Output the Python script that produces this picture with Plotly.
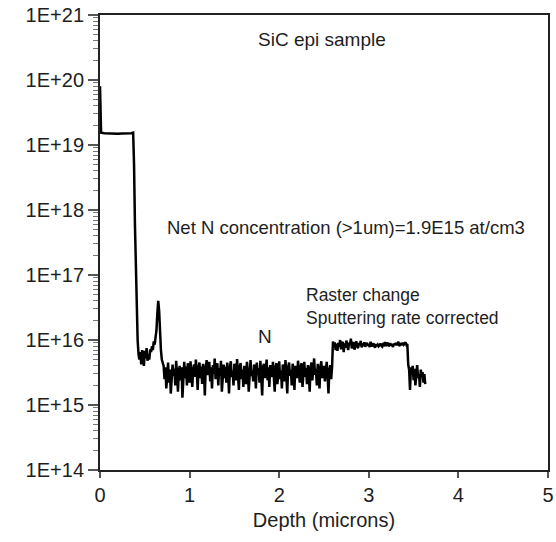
import numpy as np
import plotly.graph_objects as go

# ---- data (depth in microns, concentration in at/cm3) ----
head_depth = [0.0, 0.005, 0.012, 0.05, 0.1, 0.15, 0.2, 0.25, 0.3, 0.35, 0.37,
              0.38, 0.39, 0.40, 0.41, 0.42, 0.43]
head_conc = [8e19, 3e19, 1.55e19, 1.52e19, 1.5e19, 1.5e19, 1.49e19, 1.5e19,
             1.5e19, 1.52e19, 1.55e19, 5e18, 6e17, 9e16, 2.5e16, 1e16, 6e15]

# near-surface region after the drop (units of 1e15), 0.44 - 0.62 um
seg_a_e15 = [5.0, 6.5, 4.2, 7.0, 5.5, 4.0, 6.8, 5.2, 7.5, 4.8,
             6.0, 5.0, 7.2, 6.5, 8.0, 7.0, 9.5, 8.5, 11.0]
# small peak, 0.63 - 0.70 um
seg_peak_e15 = [14.0, 26.0, 40.0, 28.0, 12.0, 7.0, 5.0, 4.5]
# epi layer background, 0.71 - 2.59 um
seg_b_e15 = [
    4.0, 2.5, 3.8, 1.8, 3.2, 4.5, 2.2, 3.5, 1.5, 3.0,
    4.2, 2.8, 3.6, 2.0, 4.8, 3.0, 1.6, 3.4, 4.0, 2.4,
    3.8, 1.3, 3.2, 4.6, 2.6, 3.9, 2.0, 4.4, 3.1, 2.2,
    4.7, 3.3, 1.9, 3.6, 4.2, 2.7, 5.0, 3.2, 1.7, 3.8,
    4.5, 2.6, 3.9, 2.1, 4.3, 3.5, 1.4, 3.7, 4.9, 2.9,
    3.4, 4.6, 2.3, 3.8, 1.8, 4.1, 3.0, 5.2, 2.5, 3.6,
    4.4, 2.0, 3.7, 2.8, 4.8, 1.6, 3.5, 4.2, 2.6, 3.9,
    2.2, 4.5, 3.1, 1.5, 3.8, 4.7, 2.7, 3.4, 2.0, 4.3,
    3.6, 2.4, 5.1, 3.0, 1.7, 3.9, 4.4, 2.5, 3.5, 1.9,
    4.0, 3.2, 2.1, 4.6, 3.3, 1.6, 3.8, 4.9, 2.8, 3.4,
    2.3, 4.2, 3.6, 1.8, 4.5, 2.9, 3.7, 2.2, 4.8, 3.1,
    1.4, 3.9, 4.3, 2.6, 3.5, 5.0, 2.4, 3.8, 1.9, 4.1,
    3.3, 2.7, 4.6, 3.0, 1.6, 3.9, 4.4, 2.1, 3.6, 4.7,
    2.5, 3.4, 1.8, 4.2, 3.7, 2.3, 4.9, 3.1, 1.5, 3.8,
    4.5, 2.8, 3.5, 2.0, 4.3, 3.6, 1.7, 4.0, 3.2, 2.6,
    4.8, 3.0, 2.2, 3.9, 4.4, 1.9, 3.4, 4.6, 2.7, 3.7,
    2.1, 4.1, 3.3, 1.6, 3.8, 4.5, 2.4, 3.5, 5.2, 2.9,
    3.6, 2.0, 4.3, 3.1, 1.8, 3.9, 4.7, 2.6, 3.4, 4.0,
    2.3, 3.7, 4.6, 2.8, 1.5, 3.5, 4.1, 2.5, 3.8]
# raster change region, 2.60 - 3.43 um
seg_c_e15 = [
    9.5, 8.0, 9.2, 7.0, 8.8, 6.8, 9.0, 7.8, 10.0, 7.2,
    8.5, 9.4, 6.5, 8.9, 7.6, 9.8, 8.2, 7.0, 9.1, 8.4,
    10.5, 7.4, 8.7, 9.3, 7.1, 8.6, 9.6, 8.0, 7.5, 9.0,
    8.3, 9.7, 7.7, 8.8, 8.1, 9.2, 7.9, 8.5, 9.0, 8.2,
    8.6, 7.8, 9.4, 8.3, 8.0, 8.9, 8.4, 7.6, 8.7, 8.1,
    8.5, 8.0, 8.3, 8.8, 8.2, 7.9, 8.6, 8.4, 9.3, 8.1,
    8.7, 9.1, 8.0, 8.5, 8.9, 8.2, 8.6, 7.8, 8.8, 8.4,
    9.0, 8.3, 8.7, 9.4, 8.1, 8.6, 8.9, 8.3, 9.1, 8.5,
    8.8, 9.2, 8.4, 8.7]
# tail, 3.44 - 3.63 um
seg_d_e15 = [4.2, 3.5, 1.7, 3.8, 2.9, 4.0, 2.4, 3.6, 2.0, 3.3,
             4.1, 2.6, 3.0, 1.9, 3.5, 2.8, 3.2, 2.2, 3.0, 2.1]

seg_ranges = [(0.44, 0.62), (0.63, 0.70), (0.71, 2.59), (2.60, 3.43), (3.44, 3.63)]
seg_values = [seg_a_e15, seg_peak_e15, seg_b_e15, seg_c_e15, seg_d_e15]

y_tick_vals = [1e14, 1e15, 1e16, 1e17, 1e18, 1e19, 1e20, 1e21]
y_tick_text = ["1E+14", "1E+15", "1E+16", "1E+17", "1E+18", "1E+19", "1E+20", "1E+21"]
x_tick_vals = [0, 1, 2, 3, 4, 5]

# ---- assemble ----
depth = list(head_depth)
conc = list(head_conc)
for (a, b), vals in zip(seg_ranges, seg_values):
    depth += list(np.linspace(a, b, len(vals)))
    conc += [v * 1e15 for v in vals]

FONT = "Liberation Sans, Arial, sans-serif"
TXT = "#1e1e1e"

fig = go.Figure()
fig.add_trace(go.Scatter(x=depth, y=conc, mode="lines",
                         line=dict(color="black", width=2.5), showlegend=False))

fig.update_layout(
    width=556, height=542,
    margin=dict(l=100, r=8, t=15, b=72),
    paper_bgcolor="white", plot_bgcolor="white",
    font=dict(family=FONT, size=19, color=TXT),
    xaxis=dict(range=[0, 5], tickvals=x_tick_vals, ticks="outside", ticklen=6,
               tickwidth=1.5, tickcolor="#555", showline=True, linecolor="#222",
               linewidth=2, mirror=True, showgrid=False, zeroline=False,
               automargin=False, ticklabeloverflow="allow", tickfont=dict(size=20),
               title=dict(text="Depth (microns)", font=dict(size=20), standoff=8)),
    yaxis=dict(type="log", range=[14, 21], tickvals=y_tick_vals, ticktext=y_tick_text,
               ticks="outside", ticklen=10, tickwidth=1.5, tickcolor="#555",
               showline=True, linecolor="#222", linewidth=2, mirror=True,
               showgrid=False, zeroline=False, automargin=False,
               ticklabeloverflow="allow", tickfont=dict(size=20),
               minor=dict(ticks="outside", ticklen=5, tickcolor="#777",
                          tickwidth=1, dtick="D1", showgrid=False)),
)

annots = [
    dict(x=2.48, y=20.62, text="SiC epi sample", xanchor="center", size=19),
    dict(x=0.72, y=17.73, text="Net N concentration (>1um)=1.9E15 at/cm3",
         xanchor="left", size=18.5),
    dict(x=2.28, y=16.52, text="Raster change<br>Sputtering rate corrected",
         xanchor="left", size=17.5),
    dict(x=1.84, y=16.06, text="N", xanchor="center", size=19),
]
for a in annots:
    fig.add_annotation(x=a["x"], y=a["y"], xref="x", yref="y", text=a["text"],
                       xanchor=a["xanchor"], yanchor="middle", align="left",
                       showarrow=False,
                       font=dict(family=FONT, size=a["size"], color=TXT))

# remove the default page margin so the figure fills the window exactly
fig.write_html("out.html", config={"displayModeBar": False},
               post_script="document.body.style.margin='0';document.body.style.overflow='hidden';")
